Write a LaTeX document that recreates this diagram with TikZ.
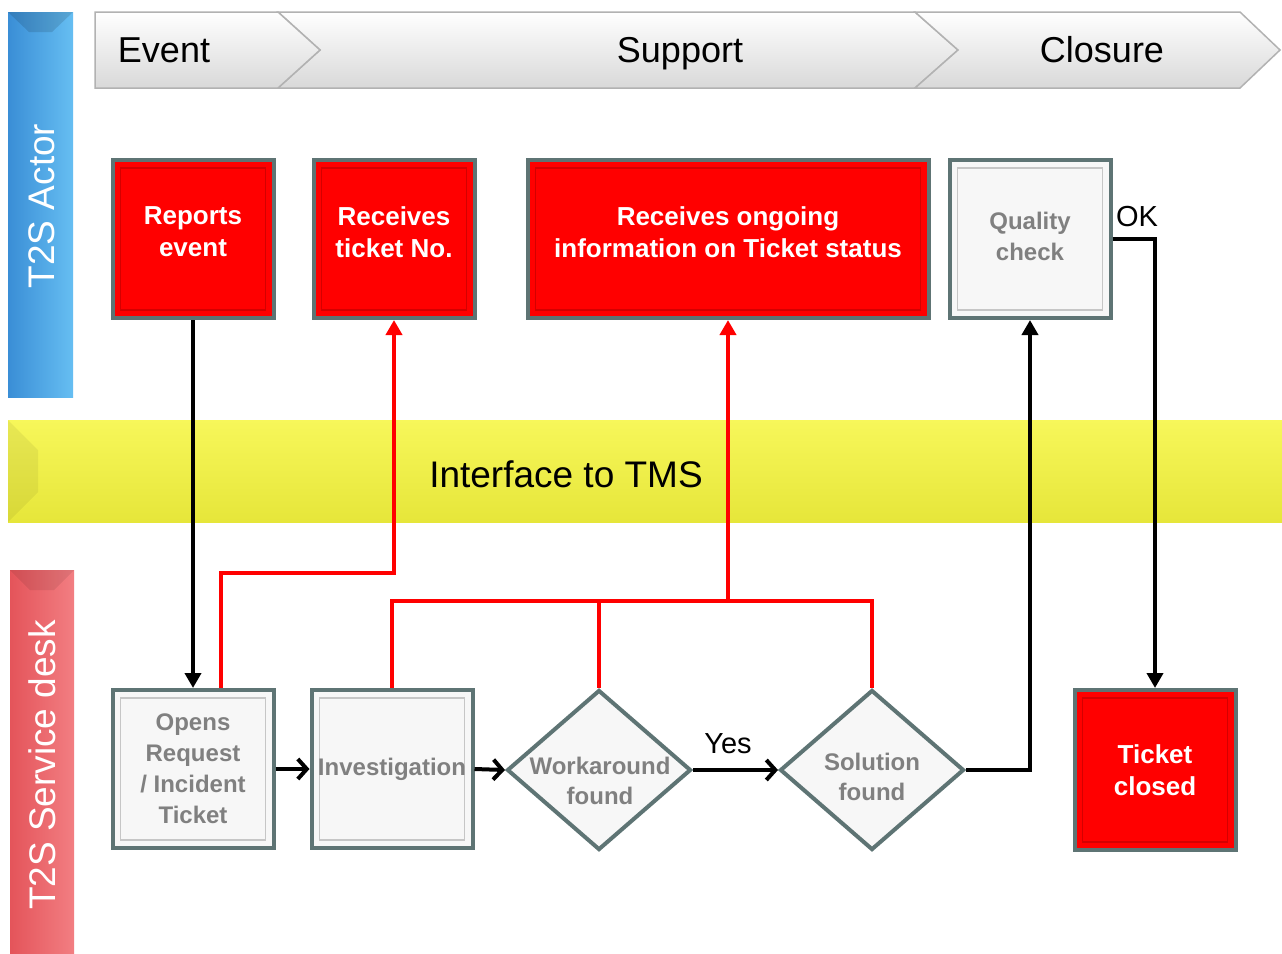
\documentclass[tikz,border=0pt]{standalone}
\usepackage{fontspec}
\setmainfont{Liberation Sans}
\usetikzlibrary{shapes.geometric,arrows.meta,calc}
\definecolor{boxred}{HTML}{FF0000}
\definecolor{innerred}{HTML}{D40000}
\definecolor{rim}{HTML}{5E7474}
\definecolor{graytxt}{HTML}{808080}
\definecolor{grayfill}{HTML}{F7F7F7}
\definecolor{bluel}{HTML}{3A8ED6}
\definecolor{bluer}{HTML}{66BEF2}
\definecolor{deskl}{HTML}{E4545A}
\definecolor{deskr}{HTML}{F27E82}
\definecolor{yeltop}{HTML}{F7F75A}
\definecolor{yelbot}{HTML}{E6E63A}
\tikzset{
  basebox/.style={rectangle, draw=rim, line width=4pt, inner sep=0pt,
    minimum width=161pt, minimum height=158pt, align=center},
  redbox/.style={basebox, fill=boxred, text=white,
    font=\fontsize{26}{32}\selectfont\bfseries,
    path picture={\draw[innerred, line width=1.5pt]
      ([xshift=8pt,yshift=-8pt]path picture bounding box.north west) rectangle
      ([xshift=-8pt,yshift=8pt]path picture bounding box.south east);}},
  graybox/.style={basebox, fill=grayfill, text=graytxt,
    font=\fontsize{24}{31}\selectfont\bfseries,
    path picture={\draw[gray!45, line width=1.5pt]
      ([xshift=8pt,yshift=-8pt]path picture bounding box.north west) rectangle
      ([xshift=-8pt,yshift=8pt]path picture bounding box.south east);}},
  decision/.style={diamond, draw=rim, line width=4pt, fill=grayfill,
    inner sep=0pt, minimum width=184pt, minimum height=160pt},
  dtext/.style={text=graytxt, align=center, inner sep=0pt,
    font=\fontsize{24}{30}\selectfont\bfseries},
  blk/.style={draw=black, line width=4pt},
  redl/.style={draw=boxred, line width=4pt},
  vtip/.style={-{Triangle[length=15pt,width=16pt]}},
  htip/.style={-{Straight Barb[length=9pt,width=20pt,line width=4pt]}},
  chev/.style={draw=gray!60, line width=1.5pt, top color=white, bottom color=gray!30},
  headtxt/.style={font=\fontsize{36}{40}\selectfont, text=black, anchor=base},
  lbl/.style={font=\fontsize{29}{32}\selectfont, text=black, inner sep=0pt}
}
\begin{document}
\begin{tikzpicture}[x=1pt,y=-1pt]
\useasboundingbox (0,0) rectangle (1282,953);
\fill[white] (0,0) rectangle (1282,953);

% lanes
\shade[left color=bluel, right color=bluer] (8,12) rectangle (73,397);
\fill[black, opacity=0.12] (8,12) -- (73,12) -- (52,32) -- (29,32) -- cycle;
\node[rotate=90, text=white, font=\fontsize{37}{40}\selectfont] (actor) at (42,206) {T2S Actor};

\shade[left color=deskl, right color=deskr] (10,570) rectangle (74,953);
\fill[black, opacity=0.08] (10,570) -- (74,570) -- (54,590) -- (30,590) -- cycle;
\node[rotate=90, text=white, font=\fontsize{37}{40}\selectfont] (desk) at (42,765) {T2S Service desk};

\shade[top color=yeltop, bottom color=yelbot] (8,420) rectangle (1282,522);
\fill[black, opacity=0.06] (8,420) -- (38,450) -- (38,492) -- (8,522) -- cycle;
\node[font=\fontsize{37}{40}\selectfont, text=black] (tms) at (566,474) {Interface to TMS};

% header chevrons
\path[chev] (278,12) -- (915,12) -- (958,50) -- (915,88) -- (278,88) -- (320,50) -- cycle;
\path[chev] (915,12) -- (1240,12) -- (1280,50) -- (1240,88) -- (915,88) -- (958,50) -- cycle;
\path[chev] (95,12) -- (278,12) -- (320,50) -- (278,88) -- (95,88) -- cycle;
\node[headtxt] (hevent) at (164,62) {Event};
\node[headtxt] (hsupport) at (680,62) {Support};
\node[headtxt] (hclosure) at (1102,62) {Closure};

% top row
\node[redbox, text depth=14pt] (reports) at (193,239) {Reports\\event};
\node[redbox, text depth=14pt] (ticketno) at (394,239) {Receives\\ticket No.};
\node[redbox, text depth=14pt, minimum width=401pt] (ongoing) at (728,239) {Receives ongoing\\information on Ticket status};
\node[graybox, text depth=6pt] (quality) at (1030,239) {Quality\\check};

% bottom row
\node[graybox] (opens) at (193,769) {Opens\\Request\\/ Incident\\Ticket};
\node[graybox] (invest) at (392,769) {Investigation};
\node[decision] (work) at (599,770) {};
\node[dtext] (worktxt) at (600,781) {Workaround\\found};
\node[decision] (sol) at (872,770) {};
\node[dtext] (soltxt) at (872,777) {Solution\\found};
\node[redbox, minimum height=160pt] (closed) at (1155,770) {Ticket\\closed};

% connectors
\draw[blk, vtip] (reports.south) -- (opens.north);
\draw[redl, vtip] ([xshift=28pt]opens.north) -- ++(0,-115) -| (ticketno.south);
\draw[redl] (invest.north) -- ++(0,-87) coordinate (j1) -| (work.north);
\draw[redl] (j1) -| (sol.north);
\draw[redl, vtip] (ongoing.south |- j1) -- (ongoing.south);
\draw[blk, htip] (opens.east) -- (invest.west);
\draw[blk, htip] (invest.east) -- (work.west);
\draw[blk, htip] (work.east) -- (sol.west);
\node[lbl] (yes) at (728,744) {Yes};
\draw[blk, vtip] (sol.east) -| (quality.south);
\draw[blk, vtip] (quality.east) -| (closed.north);
\node[lbl] (ok) at (1137,217) {OK};
\end{tikzpicture}
\end{document}
